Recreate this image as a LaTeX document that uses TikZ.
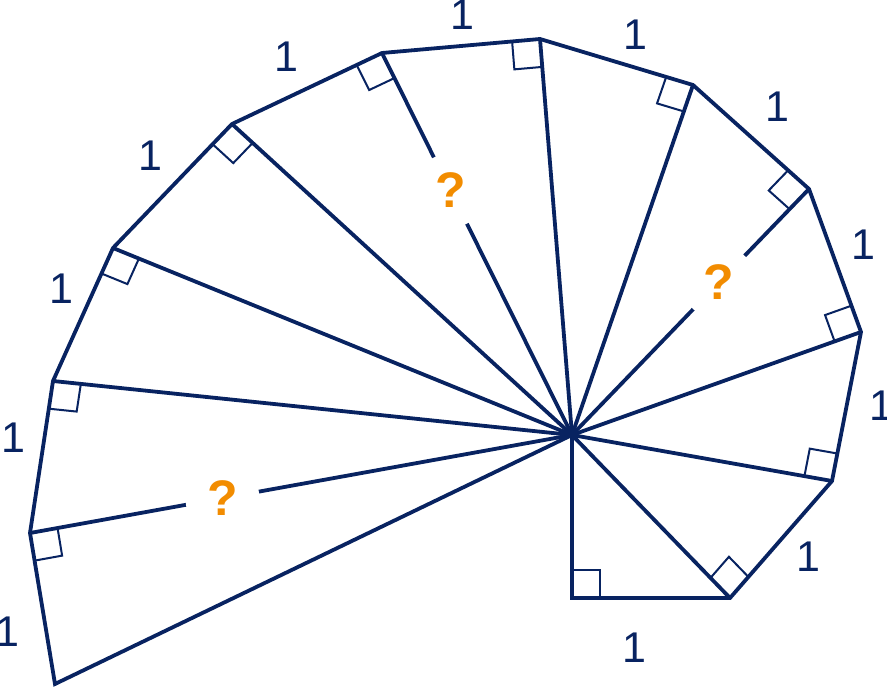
\documentclass[tikz,border=0pt]{standalone}
\usepackage{fontspec}
\setmainfont{Liberation Sans}
\usetikzlibrary{calc}
\definecolor{navy}{RGB}{8,35,97}
\definecolor{qorange}{RGB}{242,140,0}
\begin{document}
\begin{tikzpicture}[x=1pt,y=-1pt,
  edge/.style={draw=navy,line width=3.8pt},
  ramark/.style={draw=navy,line width=2pt},
  unitlbl/.style={text=navy,font=\fontsize{43}{43}\selectfont,inner sep=0pt},
  qmark/.style={circle,fill=white,minimum size=74pt,inner sep=0pt,text=qorange,font=\fontsize{50}{50}\selectfont\bfseries}]
\useasboundingbox (0,0) rectangle (887,687);
\coordinate (O) at (572,435);
\coordinate (P0) at (572,598);
\coordinate (P1) at (730,598);
\coordinate (P2) at (832,481);
\coordinate (P3) at (861,332);
\coordinate (P4) at (809,189);
\coordinate (P5) at (693,85);
\coordinate (P6) at (540,39);
\coordinate (P7) at (382,53);
\coordinate (P8) at (232,124);
\coordinate (P9) at (113,248);
\coordinate (P10) at (53,381);
\coordinate (P11) at (30,533);
\coordinate (P12) at (55,684);
% spokes
\foreach \i in {1,...,11} \draw[edge] (O) -- (P\i);
% outline
\draw[edge] (P12) -- (P11) -- (P10) -- (P9) -- (P8) -- (P7) -- (P6) -- (P5) -- (P4) -- (P3) -- (P2) -- (P1) -- (P0) -- (O) -- cycle;
% right-angle marks
\foreach \i/\j in {0/1,1/2,2/3,3/4,4/5,5/6,6/7,7/8,8/9,9/10,10/11,11/12}{
  \coordinate (ra) at ($(P\i)!28pt!(O)$);
  \coordinate (rb) at ($(P\i)!28pt!(P\j)$);
  \draw[ramark] (ra) -- ($(ra)+(rb)-(P\i)$) -- (rb);
}
% question marks
\node[qmark] (q1) at ($(O)!0.64!(P7)$) {?};
\node[qmark] (q2) at ($(O)!0.62!(P4)$) {?};
\node[qmark] (q3) at ($(O)!0.645!(P11)$) {?};
% unit labels
\node[unitlbl] (l1) at (634,648) {1};
\node[unitlbl] (l2) at (808,557) {1};
\node[unitlbl] (l3) at (881,406) {1};
\node[unitlbl] (l4) at (863,245) {1};
\node[unitlbl] (l5) at (777,107) {1};
\node[unitlbl] (l6) at (635,35) {1};
\node[unitlbl] (l7) at (462,15) {1};
\node[unitlbl] (l8) at (286,57) {1};
\node[unitlbl] (l9) at (150,156) {1};
\node[unitlbl] (l10) at (61,289) {1};
\node[unitlbl] (l11) at (13,438) {1};
\node[unitlbl] (l12) at (7,632) {1};
\end{tikzpicture}
\end{document}
